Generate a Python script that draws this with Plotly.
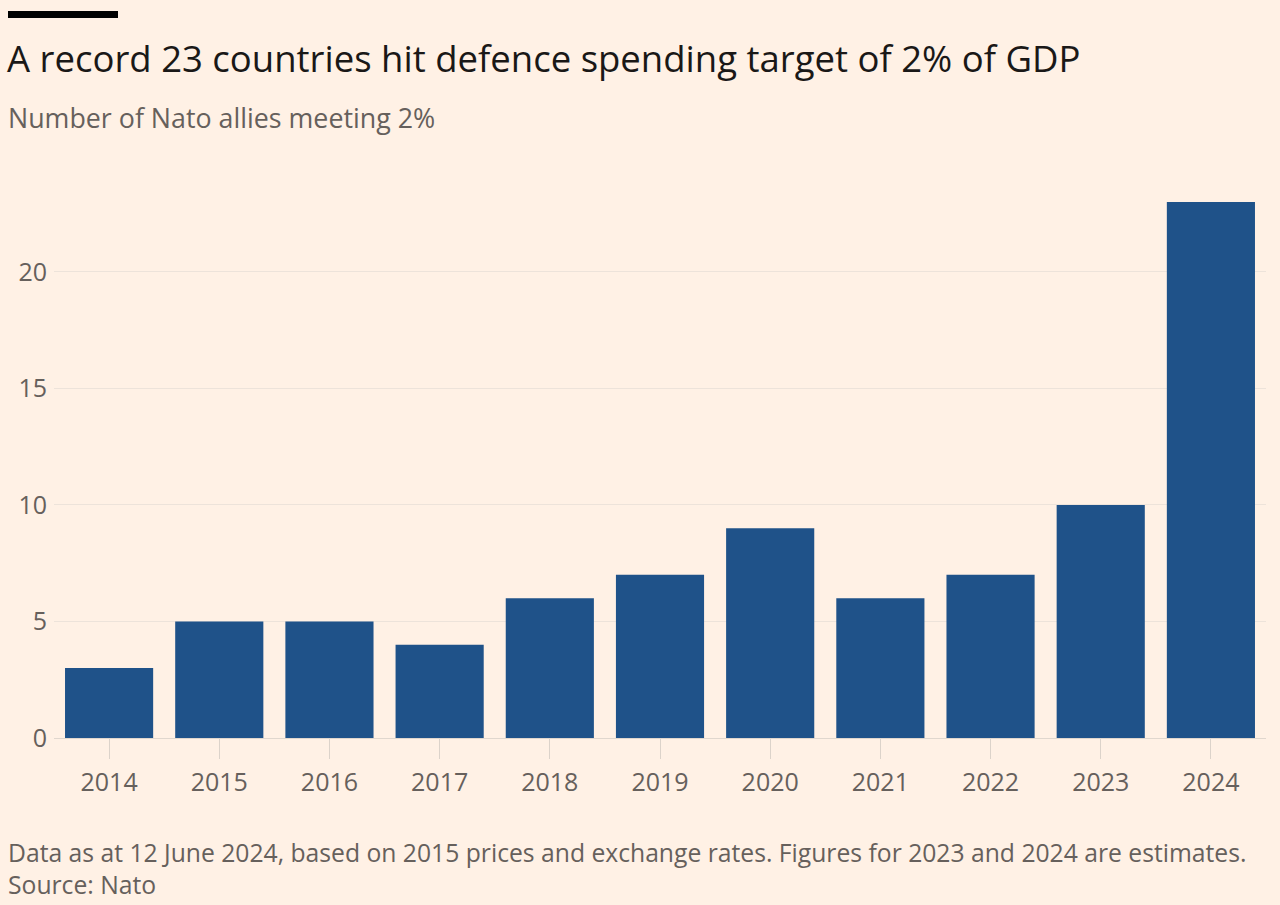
import plotly.graph_objects as go

years = ["2014", "2015", "2016", "2017", "2018", "2019", "2020", "2021", "2022", "2023", "2024"]
allies_meeting_2pct = [3, 5, 5, 4, 6, 7, 9, 6, 7, 10, 23]
y_tick_values = [0, 5, 10, 15, 20]

title_text = "A record 23 countries hit defence spending target of 2% of GDP"
subtitle_text = "Number of Nato allies meeting 2%"
footnote_text = "Data as at 12 June 2024, based on 2015 prices and exchange rates. Figures for 2023 and 2024 are estimates."
source_text = "Source: Nato"

W, H = 1280, 905
BG = "#FFF1E5"
BAR = "#1F5289"
FONT = "'Open Sans', 'Noto Sans', sans-serif"


def px_x(x):
    return x / W


def px_y(y):
    return (H - y) / H


fig = go.Figure()
fig.add_trace(go.Bar(
    x=years,
    y=allies_meeting_2pct,
    marker=dict(color=BAR, line=dict(width=0)),
    hoverinfo="x+y",
))

fig.update_layout(
    width=W,
    height=H,
    margin=dict(l=0, r=0, t=0, b=0, autoexpand=False),
    paper_bgcolor=BG,
    plot_bgcolor=BG,
    bargap=0.2,
    showlegend=False,
    font=dict(family=FONT, color="#66605C"),
    xaxis=dict(
        domain=[px_x(54), px_x(1266)],
        type="category",
        showgrid=False,
        ticks="outside",
        ticklen=20,
        tickcolor="#DCD3CA",
        tickwidth=1,
        tickfont=dict(size=25, color="#66605C", family=FONT),
        ticklabelstandoff=2,
        showline=False,
        zeroline=False,
        fixedrange=True,
    ),
    yaxis=dict(
        domain=[px_y(738), px_y(202)],
        range=[0, 23],
        tickvals=y_tick_values,
        showgrid=True,
        gridcolor="#EDE3DA",
        gridwidth=1,
        zeroline=True,
        zerolinecolor="#E0D7CE",
        zerolinewidth=1,
        showline=False,
        ticks="",
        tickfont=dict(size=25, color="#66605C", family=FONT),
        ticklabelstandoff=6,
        fixedrange=True,
    ),
    shapes=[
        dict(type="rect", xref="paper", yref="paper",
             x0=px_x(8), x1=px_x(118), y0=px_y(18), y1=px_y(11),
             fillcolor="#000000", line=dict(width=0), layer="above"),
    ],
    annotations=[
        dict(text=title_text, xref="paper", yref="paper", x=px_x(5), y=px_y(58),
             xanchor="left", yanchor="middle", showarrow=False,
             font=dict(size=36.5, color="#1A1817", family=FONT)),
        dict(text=subtitle_text, xref="paper", yref="paper", x=px_x(6), y=px_y(117),
             xanchor="left", yanchor="middle", showarrow=False,
             font=dict(size=26.8, color="#66605C", family=FONT)),
        dict(text=footnote_text, xref="paper", yref="paper", x=px_x(6), y=px_y(852),
             xanchor="left", yanchor="middle", showarrow=False,
             font=dict(size=24.7, color="#66605C", family=FONT)),
        dict(text=source_text, xref="paper", yref="paper", x=px_x(6), y=px_y(884),
             xanchor="left", yanchor="middle", showarrow=False,
             font=dict(size=24.7, color="#66605C", family=FONT)),
    ],
)

fig.write_html(
    "out.html",
    config={"displayModeBar": False},
    post_script="document.body.style.margin='0';document.body.style.overflow='hidden';",
)
